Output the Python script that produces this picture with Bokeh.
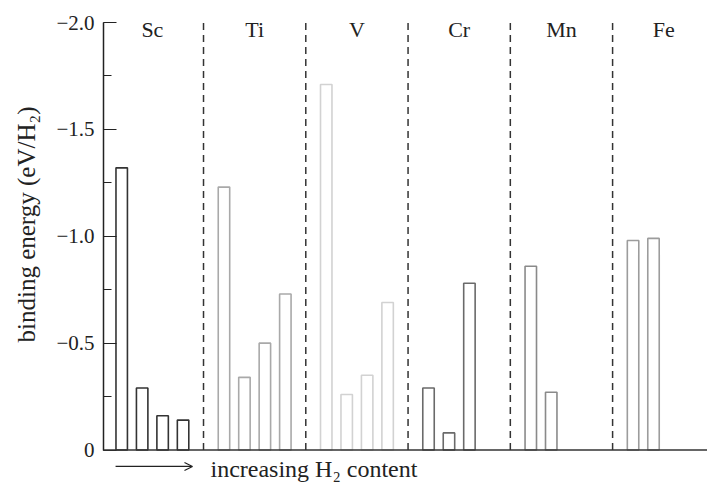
from bokeh.plotting import figure
from bokeh.models import (Range1d, SingleIntervalTicker, CustomJSTickFormatter,
                          Span, Label, Arrow, OpenHead, Title)
from bokeh.core.properties import value
from bokeh.embed import file_html
from bokeh.resources import INLINE

# ---- data (binding energy, eV/H2) ----
elements = ["Sc", "Ti", "V", "Cr", "Mn", "Fe"]
sc_values = [-1.32, -0.29, -0.16, -0.14]
ti_values = [-1.23, -0.34, -0.50, -0.73]
v_values = [-1.71, -0.26, -0.35, -0.69]
cr_values = [-0.29, -0.08, -0.78]
mn_values = [-0.86, -0.27]
fe_values = [-0.98, -0.99]
y_tick_values = [0.0, -0.5, -1.0, -1.5, -2.0]

series = [sc_values, ti_values, v_values, cr_values, mn_values, fe_values]
group_colors = ["#333333", "#a9a9a9", "#d2d2d2", "#6a6a6a", "#8a8a8a", "#9c9c9c"]

SLOTS = 5  # slots per element group

xs, tops, cols = [], [], []
for g, vals in enumerate(series):
    for j, v in enumerate(vals):
        xs.append(g * SLOTS + 1 + j)
        tops.append(v)
        cols.append(group_colors[g])

seps = [g * SLOTS for g in range(1, len(elements))]
centers = [g * SLOTS + SLOTS / 2 for g in range(len(elements))]

SERIF = "Liberation Serif"

p = figure(width=707, height=482, output_backend="svg", toolbar_location=None,
           x_range=Range1d(0.11, 29.64), y_range=Range1d(0.152, -2.0),
           x_axis_type=None,
           min_border_left=103, min_border_right=0,
           min_border_top=22, min_border_bottom=0)
p.outline_line_color = None
p.grid.visible = False
p.background_fill_color = "white"

ax = p.yaxis[0]
ax.bounds = (min(y_tick_values), max(y_tick_values))
ax.ticker = SingleIntervalTicker(interval=0.5, num_minor_ticks=2)
ax.formatter = CustomJSTickFormatter(
    code="return Math.abs(tick) < 1e-9 ? '0' : '\u2212' + Math.abs(tick).toFixed(1);")
ax.major_tick_in = 13
ax.major_tick_out = 0
ax.minor_tick_in = 8
ax.minor_tick_out = 0
ax.axis_line_width = 1.5
ax.axis_line_color = "#222222"
ax.major_tick_line_color = "#222222"
ax.minor_tick_line_color = "#222222"
ax.major_tick_line_width = 1.2
ax.minor_tick_line_width = 1.2
ax.major_label_text_font = SERIF
ax.major_label_text_font_size = "21px"
ax.major_label_text_color = "#222222"
ax.major_label_standoff = 9

# y-axis title, placed in a side panel left of the axis
p.add_layout(Title(text="binding energy (eV/H\u2082)", align="right", vertical_align="top",
                   offset=84, standoff=24, text_font=SERIF, text_font_size="25px",
                   text_font_style="normal", text_color="#222222"), "left")

# separators
p.segment(x0=seps, y0=0, x1=seps, y1=-2.0, line_dash="7 5",
          line_color="#333333", line_width=1.5)

# bars
p.vbar(x=xs, top=tops, bottom=0, width=0.56, fill_color="white",
       line_color=cols, line_width=1.6)

# bottom line
p.add_layout(Span(location=0, dimension="width", line_color="#333333", line_width=1.6))

# group labels
p.text(x=centers, y=-1.965, text=elements, text_font=value(SERIF),
       text_font_size="22px", text_align="center", text_baseline="middle",
       text_color="#222222")

# arrow + bottom text
p.add_layout(Arrow(end=OpenHead(size=8, line_color="#222222", line_width=1.2),
                   x_start=0.70, y_start=0.077, x_end=4.46, y_end=0.077,
                   line_color="#222222", line_width=1.2))
p.add_layout(Label(x=5.34, y=0.087, text="increasing H\u2082 content",
                   text_font=SERIF, text_font_size="24px", text_baseline="middle",
                   text_color="#222222"))

open("out.html", "w").write(file_html(p, INLINE))
